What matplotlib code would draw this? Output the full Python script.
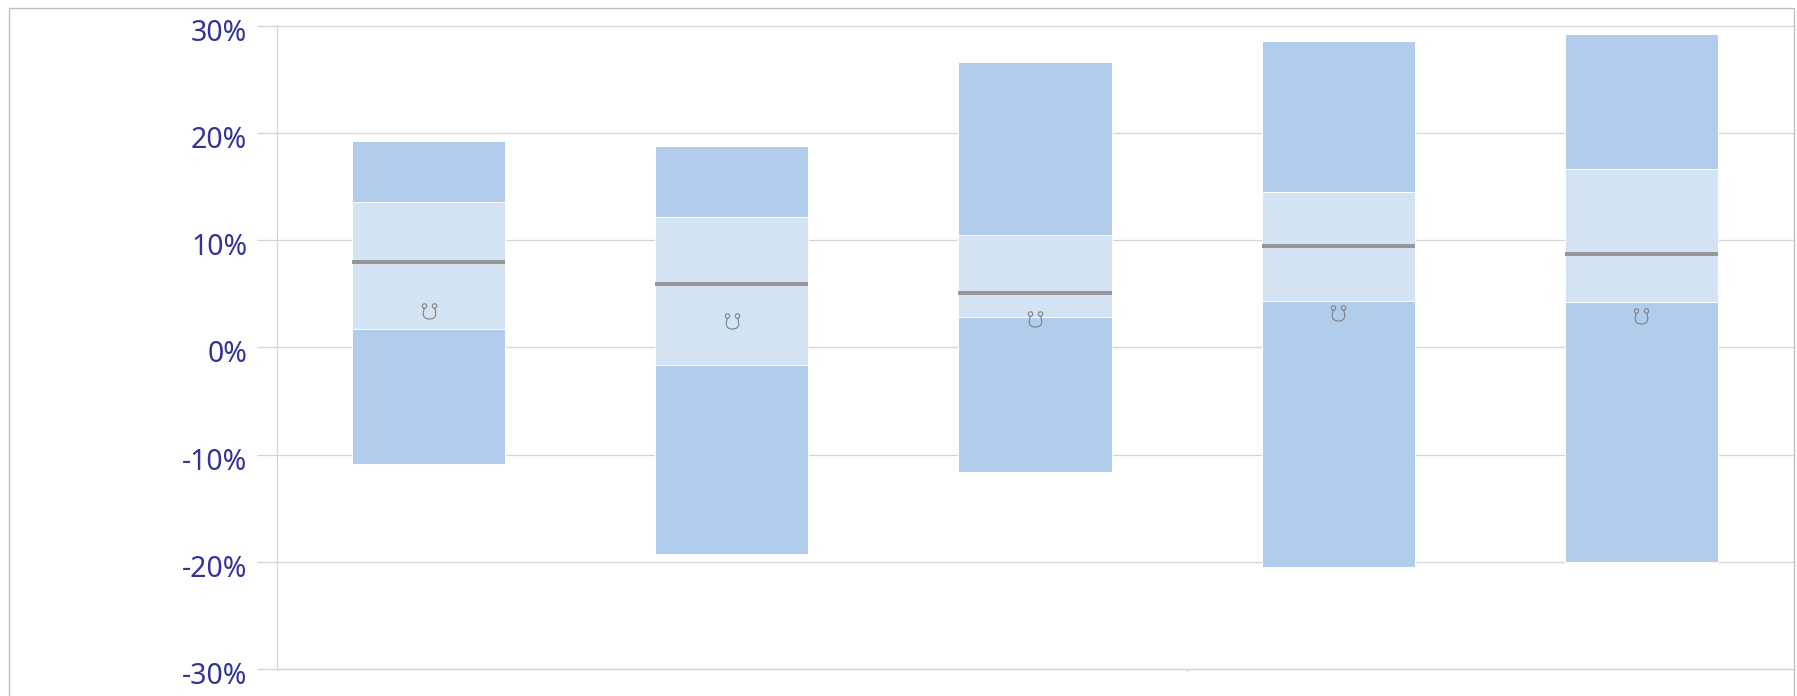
import matplotlib
matplotlib.use("Agg")
import matplotlib.pyplot as plt
from matplotlib.lines import Line2D
from matplotlib.path import Path
from matplotlib.transforms import ScaledTranslation
import numpy as np

# values in percent
low = [-10.9, -19.3, -11.6, -20.5, -20.0]
q1 = [1.7, -1.6, 2.8, 4.3, 4.2]
median = [8.0, 5.9, 5.1, 9.5, 8.7]
q3 = [13.6, 12.2, 10.5, 14.5, 16.7]
high = [19.3, 18.8, 26.6, 28.6, 29.3]
marker = [3.4, 2.5, 2.7, 3.2, 2.9]
y_ticks = [-30, -20, -10, 0, 10, 20, 30]
y_labels = ["-30%", "-20%", "-10%", "0%", "10%", "20%", "30%"]

W, H = 1797, 696
DARK = "#b2cdec"
LIGHT = "#d4e3f4"
GRID = "#d4d4d4"
BAR_W = 0.505


def node_marker():
    # U shape with a small ring on each end
    left = Path.circle((-0.5, 0.55), 0.22)
    right = Path.circle((0.5, 0.55), 0.22)
    u = Path(
        [(-0.5, 0.33), (-0.72, -0.2), (-0.7, -0.75), (0, -0.75), (0.7, -0.75), (0.72, -0.2), (0.5, 0.33)],
        [Path.MOVETO, Path.CURVE4, Path.CURVE4, Path.CURVE4, Path.CURVE4, Path.CURVE4, Path.CURVE4],
    )
    return Path.make_compound_path(left, right, u)


fig = plt.figure(figsize=(W / 100, H / 100), dpi=100)
ax = fig.add_axes([277 / W, 1 - 669 / H, (1793 - 277) / W, (669 - 26) / H])

x = np.arange(len(low)) + 0.5
low_a, q1_a, med_a, q3_a, high_a = map(np.array, (low, q1, median, q3, high))

ax.bar(x, q1_a - low_a, BAR_W, bottom=low_a, color=DARK, edgecolor="white", linewidth=0.7, zorder=2)
ax.bar(x, q3_a - q1_a, BAR_W, bottom=q1_a, color=LIGHT, edgecolor="white", linewidth=0.7, zorder=2)
ax.bar(x, high_a - q3_a, BAR_W, bottom=q3_a, color=DARK, edgecolor="white", linewidth=0.7, zorder=2)
ax.hlines(median, x - BAR_W / 2, x + BAR_W / 2, color="#969696", linewidth=2.9, zorder=3)
ax.plot(x, marker, linestyle="none", marker=node_marker(), markersize=11.1,
        markerfacecolor="none", markeredgecolor="#808080", markeredgewidth=0.8, zorder=4)

ax.set_xlim(0, len(low))
ax.set_ylim(-30, 30)
ax.set_yticks(y_ticks)
ax.set_yticklabels(y_labels)
ax.set_xticks([])
ax.set_xticks([3], minor=True)
ax.grid(axis="y", color=GRID, linewidth=0.9, zorder=1, clip_on=False)
ax.set_axisbelow(True)
ax.tick_params(axis="y", length=14.4, width=0.9, color=GRID, pad=7,
               labelsize=20.5, labelcolor="#333399")
ax.tick_params(axis="x", which="minor", length=2, width=0.8, color=GRID)
for lab in ax.get_yticklabels():
    lab.set_family("Noto Sans")
    lab.set_transform(lab.get_transform() + ScaledTranslation(0, -4 / 100, fig.dpi_scale_trans))

for side in ("top", "right"):
    ax.spines[side].set_visible(False)
ax.spines["left"].set_color(GRID)
ax.spines["bottom"].set_color(GRID)
ax.spines["left"].set_linewidth(0.9)
ax.spines["bottom"].set_linewidth(0.9)

# outer frame, open at the bottom
frame = Line2D([8.5 / W, 8.5 / W, 1793.5 / W, 1793.5 / W], [0, 1 - 7.5 / H, 1 - 7.5 / H, 0],
               transform=fig.transFigure, color="#c0c0c0", linewidth=1.0)
fig.add_artist(frame)

fig.savefig("out.png", dpi=100)
